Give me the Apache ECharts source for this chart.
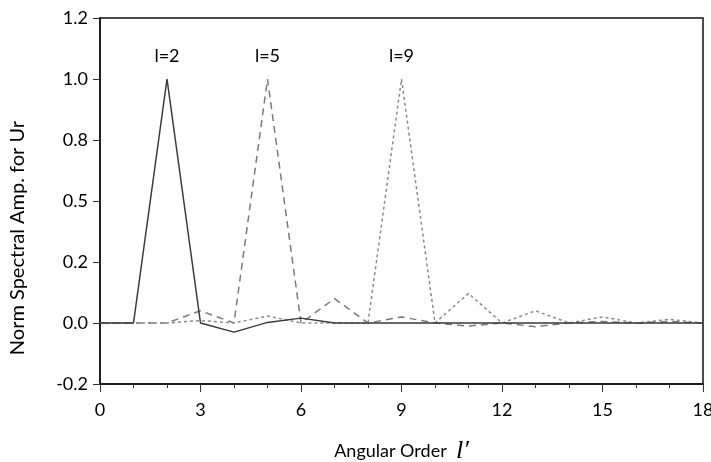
<!DOCTYPE html>
<html>
<head>
<meta charset="utf-8">
<script src="https://cdn.jsdelivr.net/npm/echarts@6/dist/echarts.min.js"></script>
<style>
  html, body { margin: 0; padding: 0; background: #fff; }
  #chart { width: 711px; height: 462px; }
</style>
</head>
<body>
<div id="chart"></div>
<script>
// angular order l'
const orders = [0,1,2,3,4,5,6,7,8,9,10,11,12,13,14,15,16,17,18];
// normalised spectral amplitudes
const ampL2 = [0, 0, 1.0, 0, -0.03, 0.002, 0.016, 0, 0, 0, 0, 0, 0, 0, 0, 0, 0, 0, 0];
const ampL5 = [0, 0, 0, 0.04, 0, 1.0, 0, 0.08, 0, 0.02, 0, -0.01, 0, -0.012, 0, 0.005, 0, 0.005, 0];
const ampL9 = [0, 0, 0, 0.008, 0, 0.023, 0, 0, 0, 1.0, 0, 0.097, 0, 0.04, 0, 0.02, 0, 0.012, 0];
// y tick labels (evenly spaced on the figure)
const yTicks = [-0.2, 0.0, 0.2, 0.5, 0.8, 1.0, 1.2];

// place a value on the tick ladder (piecewise between labelled ticks)
function toTickPos(v) {
  for (let i = 0; i < yTicks.length - 1; i++) {
    if (v <= yTicks[i + 1] || i === yTicks.length - 2) {
      return i + (v - yTicks[i]) / (yTicks[i + 1] - yTicks[i]);
    }
  }
}

const FONT = 'Lato';

function makeData(vals, peakName) {
  return vals.map(function (v, i) {
    const d = { value: [orders[i], toTickPos(v)] };
    if (v === 1.0) {
      d.label = { show: true, position: 'top', distance: 14, formatter: peakName,
        color: '#000', fontSize: 18, fontFamily: FONT };
    }
    return d;
  });
}

const chart = echarts.init(document.getElementById('chart'));
chart.setOption({
  animation: false,
  backgroundColor: '#fff',
  grid: {
    left: 100, right: 8, top: 18, bottom: 78,
    containLabel: false, outerBoundsMode: 'none',
    show: true, borderColor: '#111', borderWidth: 1.5
  },
  xAxis: {
    type: 'value', min: 0, max: 18, interval: 3,
    name: '{a|Angular Order  }{b|l′}',
    nameLocation: 'middle', nameGap: 54,
    nameTextStyle: {
      rich: {
        a: { fontSize: 18, color: '#000', fontFamily: FONT },
        b: { fontSize: 26, color: '#000', fontFamily: 'Liberation Serif', fontStyle: 'italic' }
      }
    },
    axisLine: { onZero: false, lineStyle: { color: '#111', width: 1.5 } },
    axisTick: { length: 8, lineStyle: { color: '#333' } },
    minorTick: { show: true, splitNumber: 3, length: 4, lineStyle: { color: '#333' } },
    splitLine: { show: false },
    axisLabel: { fontSize: 18, color: '#000', margin: 17, fontFamily: FONT }
  },
  yAxis: {
    type: 'value', min: 0, max: 6, interval: 1,
    name: 'Norm Spectral Amp. for Ur',
    nameLocation: 'middle', nameGap: 72,
    nameTextStyle: { fontSize: 20, color: '#000', fontFamily: FONT, padding: [0, 74, 0, 0] },
    axisLine: { show: true, lineStyle: { color: '#111', width: 1.5 } },
    axisTick: { show: true, length: 7, lineStyle: { color: '#333' } },
    splitLine: { show: false },
    axisLabel: {
      fontSize: 18, color: '#000', margin: 12, fontFamily: FONT,
      formatter: function (v) { return yTicks[Math.round(v)].toFixed(1); }
    }
  },
  series: [
    {
      name: 'l=2', type: 'line', data: makeData(ampL2, 'l=2'),
      showSymbol: true, symbol: 'circle', symbolSize: 0, z: 3,
      lineStyle: { color: '#3a3a3a', width: 1.5, type: 'solid' }
    },
    {
      name: 'l=5', type: 'line', data: makeData(ampL5, 'l=5'),
      showSymbol: true, symbol: 'circle', symbolSize: 0, z: 2,
      lineStyle: { color: '#7a7a7a', width: 1.5, type: [7, 5] }
    },
    {
      name: 'l=9', type: 'line', data: makeData(ampL9, 'l=9'),
      showSymbol: true, symbol: 'circle', symbolSize: 0, z: 2,
      lineStyle: { color: '#8a8a8a', width: 1.5, type: [3, 3] }
    }
  ]
});
</script>
</body>
</html>
